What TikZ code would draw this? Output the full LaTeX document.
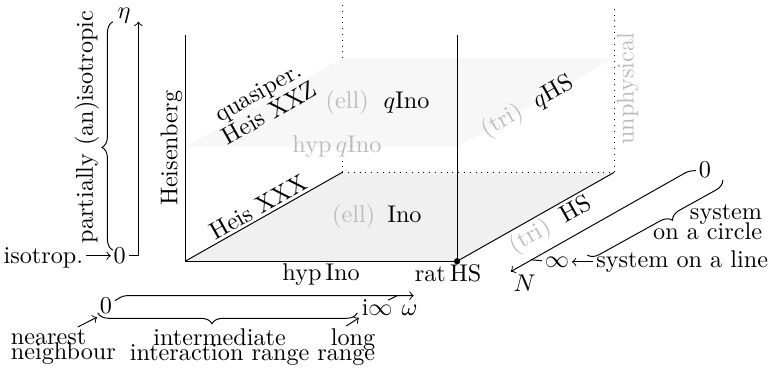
\documentclass[tikz,border=0pt]{standalone}
\usetikzlibrary{positioning, calc, decorations.pathreplacing}
\definecolor{cfaint}{HTML}{BBBBBB}
\definecolor{cfloor}{HTML}{F0F0F0}
\definecolor{cceil}{HTML}{F7F7F7}
\tikzset{
  every node/.style={inner sep=1pt},
  brc/.style={decorate, decoration={brace, amplitude=4.5pt, aspect=#1}},
  brc/.default=0.5,
  faint/.style={text=cfaint},
  tick/.style={->, rounded corners=1.5pt},
}

\begin{document}
\begin{tikzpicture}
  \useasboundingbox (0,0) rectangle (11.2,5.375);
  \coordinate (A) at (2.69,1.58);
  \coordinate (B) at (6.64,1.58);
  \coordinate (C) at ($(A)+(2.28,1.29)$);
  \coordinate (D) at ($(B)+(2.28,1.29)$);
  \coordinate (A1) at ($(A)+(0,1.66)$);
  \coordinate (B1) at ($(B)+(0,1.66)$);
  \coordinate (C1) at ($(C)+(0,1.66)$);
  \coordinate (D1) at ($(D)+(0,1.66)$);
  \fill[cfloor] (A) -- (B) -- (D) -- (C) -- cycle;
  \fill[cceil] (A1) -- (B1) -- (D1) -- (C1) -- cycle;
  \node[faint] (hypq) at ($(A1)!0.5!(B1)+(0.23,0)$) {hyp\,$q$Ino};
  \draw[dotted] (C) -- (C |- hypq.south);
  \draw[dotted] (C1) -- ++(0,0.77);
  \draw[dotted] (C) -- (D);
  \draw[dotted] (D) -- node[below, sloped, faint] (unph) {unphysical} ++(0,2.43);
  \draw (A) -- node[below] (hypino) {hyp\,Ino} (B);
  \draw (A) -- node[above, sloped] (xxx) {Heis XXX} (C);
  \draw (B) -- node[pos=0.55, below, sloped] (hs) {\textcolor{cfaint}{(tri)}\; HS} (D);
  \draw (A) -- node[above, sloped] (heis) {Heisenberg} ++(0,3.28);
  \draw (B) -- ++(0,3.28);
  \fill (B) circle (1.3pt);
  \path (A1) -- node[sloped, align=center] (xxz) {quasiper.\\[-2.2pt]Heis XXZ} (C1);
  \path (B1) -- node[pos=0.45, sloped] (qhs) {\textcolor{cfaint}{(tri)}\; $q$HS} (D1);
  \node (ino) at ($(A)!0.5!(D)+(-0.33,0)$) {\textcolor{cfaint}{(ell)}\, Ino};
  \node (qino) at ($(A1)!0.5!(D1)+(-0.32,0)$) {\textcolor{cfaint}{(ell)}\; $q$Ino};
  \node[below=0pt of B, xshift=-1.3mm] (rat) {rat\,HS};

  \node (eta0) at (1.74,1.66) {0};
  \node[base left=0.36cm of eta0] (iso) {isotrop.};
  \draw[->] (iso.east |- eta0) -- (eta0);
  \coordinate (etaE) at (2.01,5.06);
  \draw[->] (eta0) -| (etaE);
  \node[above left=-1.7pt and 2pt of etaE] (eta) {$\eta$};
  \draw[brc=0.45] (1.64,1.74) -- (1.64,5.06);
  \node[rotate=90] (aniso) at (1.26,3.53) {partially (an)isotropic};

  \coordinate (om0) at (1.79,1.08);
  \coordinate (omInf) at ($(om0)+(3.98,0)$);
  \coordinate (omE) at ($(om0)+(4.22,0)$);
  \node (olab) at (1.54,0.93) {0};
  \node[below=2.5pt of omE, xshift=-0.6mm] (om) {$\omega$};
  \node[base left=1.3pt of om] (iinf) {i$\infty$};
  \draw[tick] (olab) -- (om0) -- (omE);
  \draw (omInf) -- ++(-0.13,-0.065);
  \draw[brc=0.56] (5.19,0.83) -- (1.42,0.83);
  \node[align=left] (nn) at (0.92,0.33) {nearest\\[-5.8pt]neighbour};
  \node[align=center] (ir) at (3.19,0.33) {intermediate\\[-5.8pt]interaction range};
  \node[align=right] (lr) at (5.03,0.33) {long\\[-5.8pt]range};
  \draw[->] ([xshift=2.1mm]nn.north) -- (olab.south west);
  \draw[->] (lr.north) -- (iinf.south west);

  \coordinate (N0) at (10.0,2.89);
  \coordinate (Ninf) at ($(N0)-(2.28,1.29)$);
  \coordinate (NE) at ($(N0)-(2.58,1.46)$);
  \node (n0lab) at (10.24,2.905) {0};
  \node (ninf) at (8.09,1.57) {$\infty$};
  \draw[tick] (n0lab) -- (N0) -- (NE);
  \draw (ninf) -- (Ninf);
  \node[below right=0pt of NE] (N) {$N$};
  \node (sline) at (9.91,1.57) {system on a line};
  \draw[->] (sline) -- (ninf);
  \node[align=right] (scirc) at (10.28,2.15) {system\\[-3.7pt]on a circle};
  \draw[brc=0.41] (10.50,2.76) -- (8.53,1.67);
\end{tikzpicture}
\end{document}
